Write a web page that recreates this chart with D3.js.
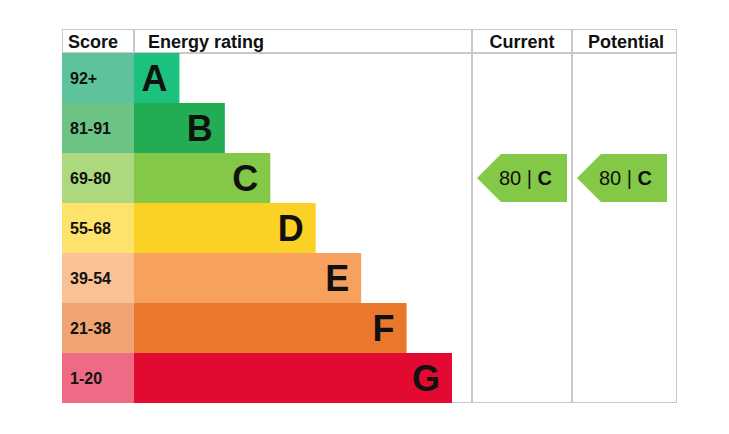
<!DOCTYPE html><html><head><meta charset="utf-8"><script src="https://cdn.jsdelivr.net/npm/d3@7"></script>
<style>body{margin:0;background:#fff}text{font-family:"Liberation Sans",Arial,sans-serif}</style></head><body><svg id="c" width="729" height="434"></svg>
<script>
const bands=["A","B","C","D","E","F","G"];
const scores=["92+","81-91","69-80","55-68","39-54","21-38","1-20"];
const barColors=["#1bc17c","#22ad55","#83c846","#fcd125","#f8a15f","#e9782c","#e20a31"];
const scoreColors=["#5ec39c","#6bc384","#add97e","#fde26c","#f9c194","#f0a471","#ee6a85"];
const barLength=[1,2,3,4,5,6,7];
const current={value:80,band:"C"}, potential={value:80,band:"C"};
const svg=d3.select("#c");
const L=62,R=677,T=29,H=24;
const y=d3.scaleBand().domain(bands).range([53,403]).padding(0);
const x=d3.scaleLinear().domain([0,7]).range([134,452]);
const grid="#c8c8c8";
// borders
svg.append("rect").attr("x",L+0.5).attr("y",T+0.5).attr("width",R-L-1).attr("height",403-T-1).attr("fill","none").attr("stroke",grid);
svg.append("line").attr("x1",L).attr("x2",R).attr("y1",53).attr("y2",53).attr("stroke",grid).attr("stroke-width",2);
[134].forEach(v=>svg.append("line").attr("x1",v).attr("x2",v).attr("y1",T).attr("y2",53).attr("stroke",grid).attr("stroke-width",2));
[472,572].forEach(v=>svg.append("line").attr("x1",v).attr("x2",v).attr("y1",T).attr("y2",403).attr("stroke",grid).attr("stroke-width",2));
const hdr=[["Score",68,"start"],["Energy rating",148,"start"],["Current",522,"middle"],["Potential",626,"middle"]];
hdr.forEach(h=>svg.append("text").attr("x",h[1]).attr("y",48).attr("text-anchor",h[2]).attr("font-size",18).attr("font-weight","bold").attr("fill","#111").text(h[0]));
const g=svg.selectAll("g.r").data(bands).join("g");
g.append("rect").attr("x",L).attr("y",d=>y(d)).attr("width",134-L).attr("height",y.bandwidth()).attr("fill",(d,i)=>scoreColors[i]);
g.append("rect").attr("x",134).attr("y",d=>y(d)).attr("width",(d,i)=>x(barLength[i])-134).attr("height",y.bandwidth()).attr("fill",(d,i)=>barColors[i]);
g.append("text").attr("x",70).attr("y",d=>y(d)+y.bandwidth()/2+6).attr("font-size",16).attr("font-weight","bold").attr("fill","#111").text((d,i)=>scores[i]);
g.append("text").attr("x",(d,i)=>x(barLength[i])-12).attr("y",d=>y(d)+y.bandwidth()/2+13).attr("text-anchor","end").attr("font-size",36).attr("font-weight","bold").attr("fill","#111").text(d=>d);
function arrow(r,x0,x1){
  const yy=y(r.band)+1,h=y.bandwidth()-2,i=bands.indexOf(r.band);
  svg.append("path").attr("d",`M${x0},${yy+h/2}L${x0+h/2},${yy}L${x1},${yy}L${x1},${yy+h}L${x0+h/2},${yy+h}Z`).attr("fill",barColors[i]);
  const t=svg.append("text").attr("x",x0+h/2-2).attr("y",yy+h/2+7).attr("font-size",20).attr("fill","#111");
  t.append("tspan").text(r.value+" | ");
  t.append("tspan").attr("font-weight","bold").text(" "+r.band);
}
arrow(current,477,567);arrow(potential,577,667);
</script></body></html>
